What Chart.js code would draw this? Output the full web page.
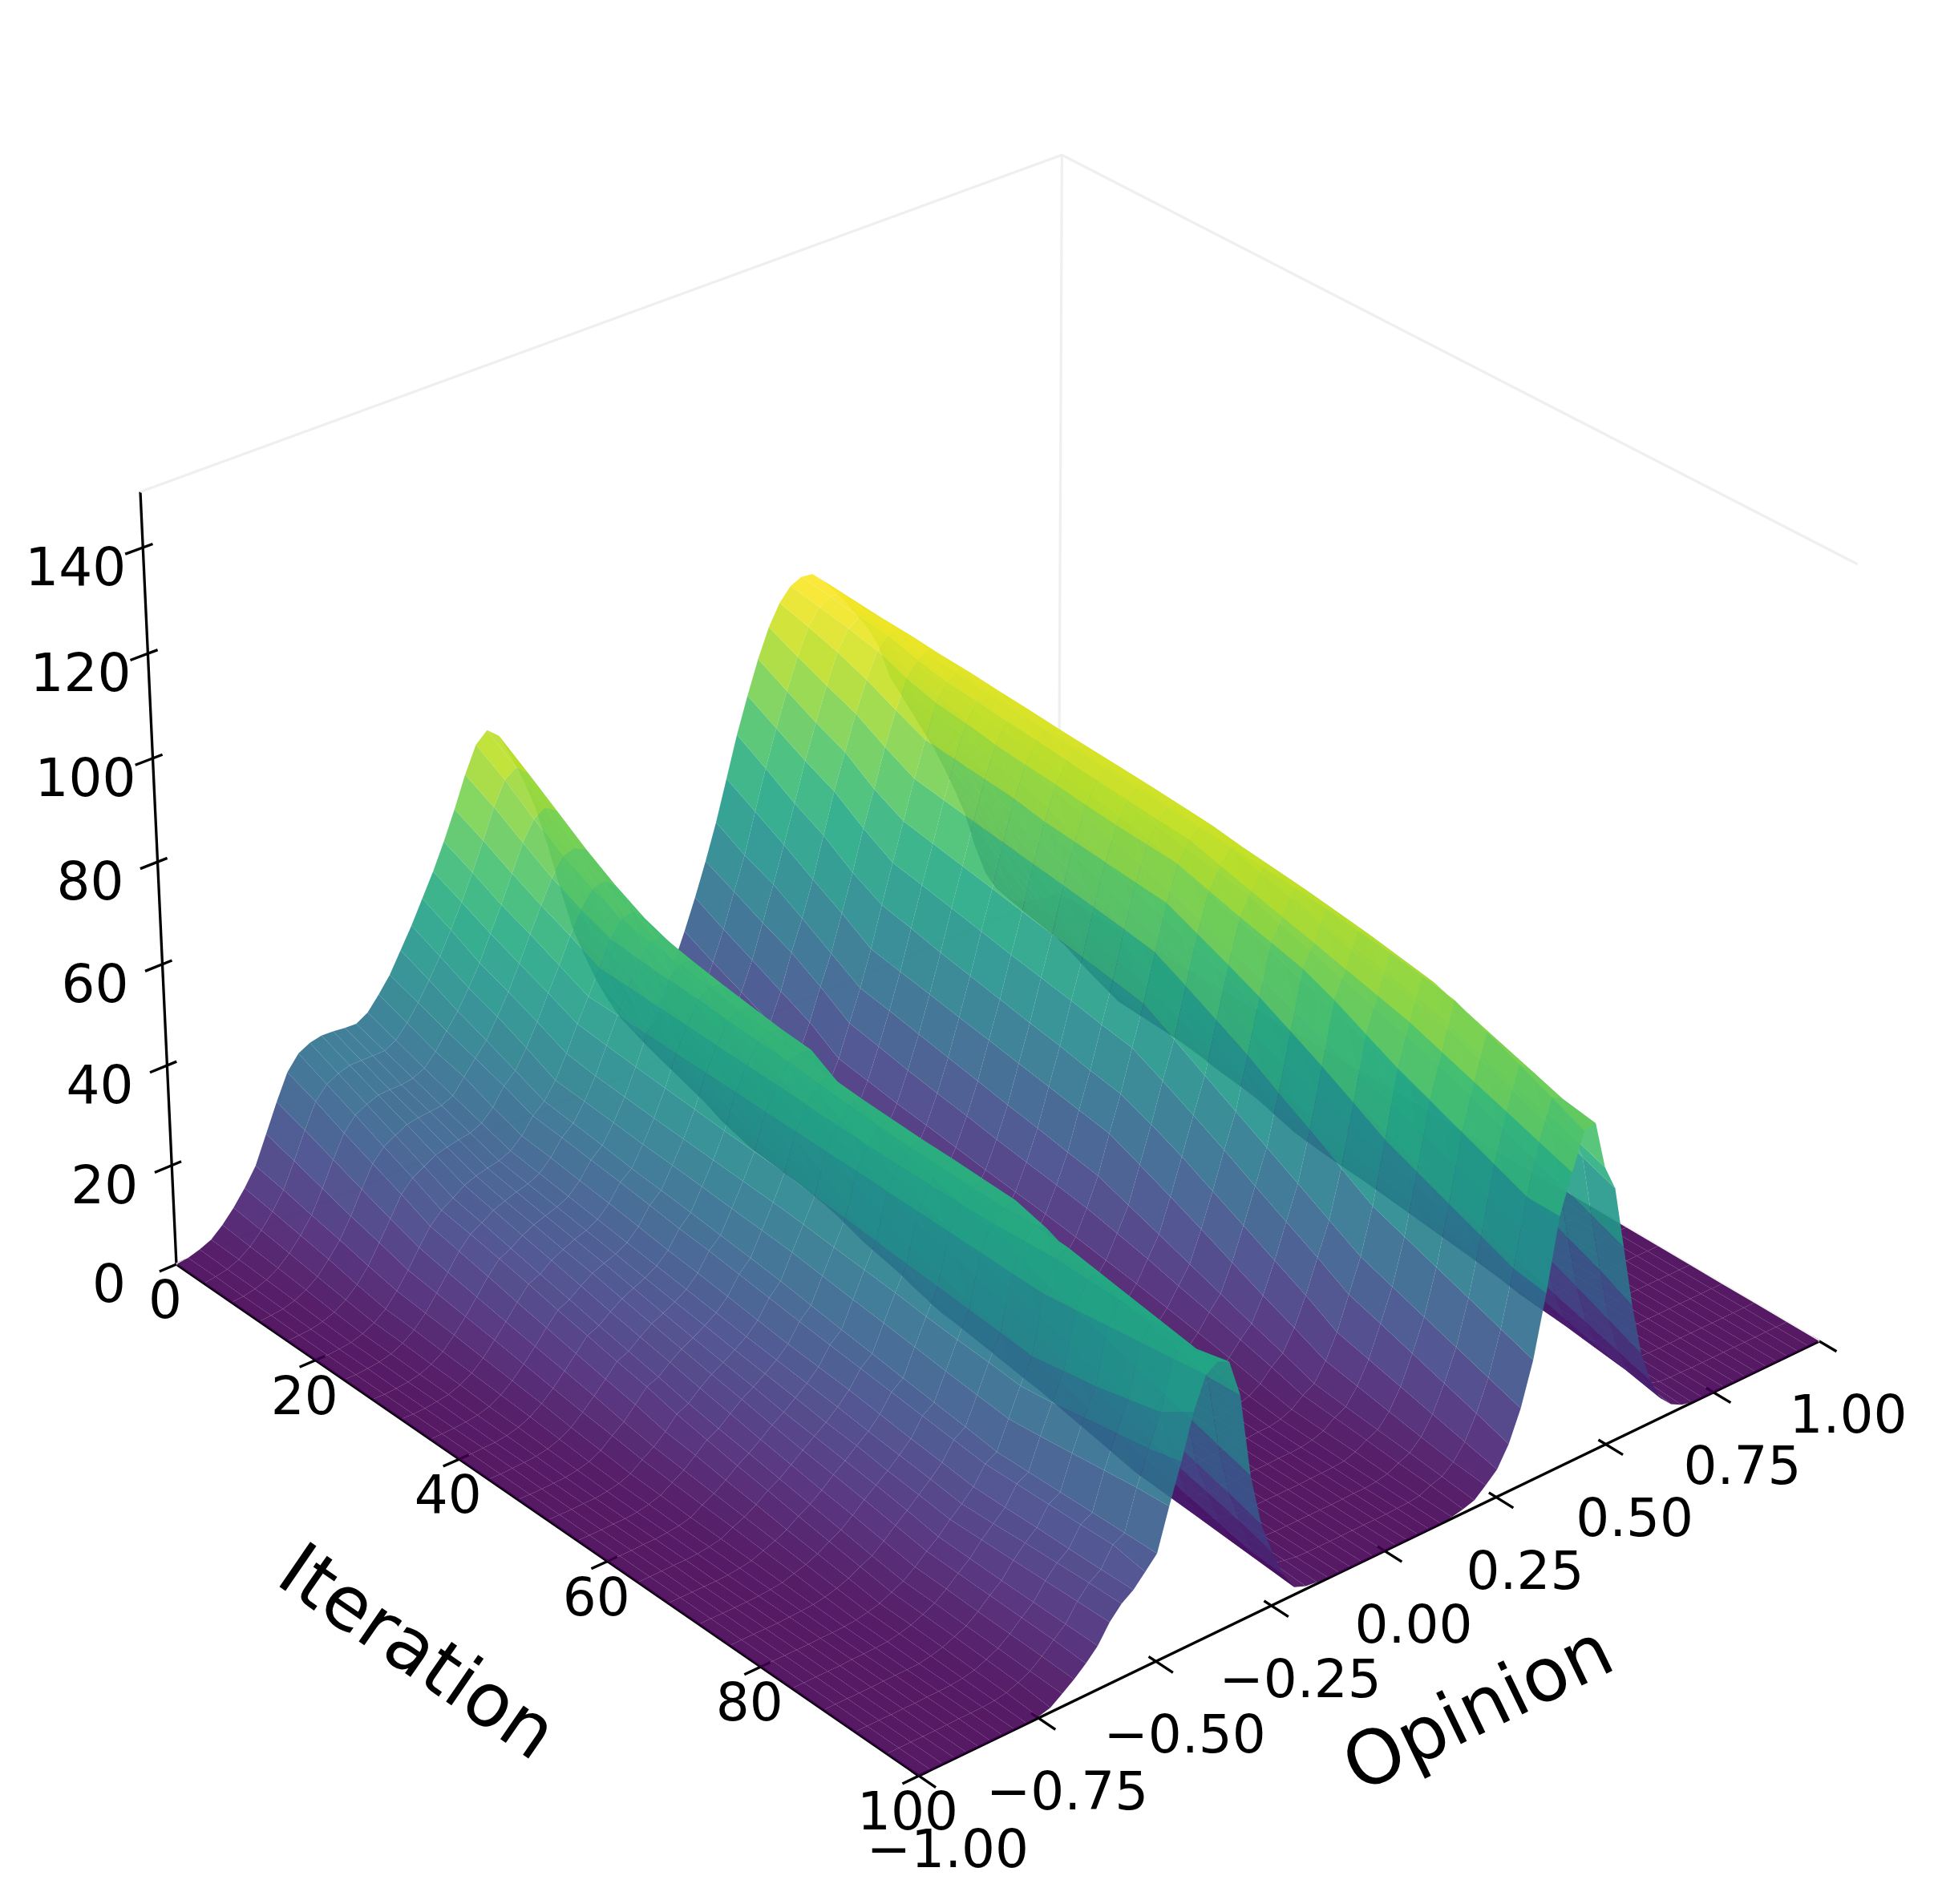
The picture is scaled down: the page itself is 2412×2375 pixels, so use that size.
<!DOCTYPE html>
<html><head><meta charset="utf-8">
<style>html,body{margin:0;padding:0;background:#fff}canvas{display:block}</style>
<script src="https://cdn.jsdelivr.net/npm/chart.js@4/dist/chart.umd.min.js"></script>
</head><body>
<canvas id="c" width="2412" height="2375"></canvas>
<script>
const opinionValues=[-1,-.975,-.95,-.925,-.9,-.875,-.85,-.825,-.8,-.775, -.75,-.725,-.7,-.675,-.65,-.625,-.6,-.575,-.55,-.525, -.5,-.475,-.45,-.425,-.4,-.375,-.35,-.325,-.3,-.275, -.25,-.225,-.2,-.175,-.15,-.125,-.1,-.075,-.05,-.025, 0,.025,.05,.075,.1,.125,.15,.175,.2,.225, .25,.275,.3,.325,.35,.375,.4,.425,.45,.475, .5,.525,.55,.575,.6,.625,.65,.675,.7,.725, .75,.775,.8,.825,.85,.875,.9,.925,.95,.975, 1];
const iterationValues=[0,4,8,12,16,20,24,28,32,36,40,44,48,52,56,60,64,68,72,76,80,84,88,92,96,100];
const iter0=[0,.3,1,2,4,6.5,9.5,13,18.5,24, 29,31.8,33,33.5,33.4,33.1,33,34.3,37,40, 44,48,52.5,57,62,67.5,73.5,78.5,80.5,78.5, 73.5,68,61.5,53,43.5,34.5,28,22,17,12.5, 9,6.5,8,12.5,19,24.5,30.5,37,44,52, 60,67,73.5,79,83,85.5,86.5,86.2,84,81, 78,74.5,71,66.5,59.5,55,50.5,46,41.6,36.5, 31,25,17,10.5,6.5,3.8,2,1,.5,.1, 0];
const iter4=[0,.3,.8,1.8,3.4,5.7,8.5,11.9,16.8,22, 26.8,29.3,30.5,31.2,31.2,31.2,31.2,32.4,34.9,38, 41.6,45.4,49.8,54.4,59.4,64.8,70.5,75,76.5,74.6, 69.8,64,57.5,49,39.5,32,25,19.3,14.4,10, 7.5,5.5,6.8,10.6,16.6,21.7,27.5,34.3,40.8,48.8, 56.6,63.8,70.4,76.4,81.5,84.6,85.8,85.7,83.6,80.6, 77.6,74,70,65.2,58,53,48,43.2,37.8,32.2, 26.4,20.8,14,8.6,5,3,1.6,.8,.3,.1, 0];
const iter8=[0,.2,.7,1.5,2.9,4.9,7.5,10.6,15,19.8, 24.2,26.8,28,28.9,29,29,29.4,30.4,32.8,36, 39,42.7,46.8,51.7,56.5,61.8,67,70.7,72,70.5, 66.2,60,53.5,45,36,28.2,22,16.6,12,8, 6,4.6,5.6,9.2,14.2,19.2,24.8,31.5,38.4,45.5, 53,60.7,67.5,74,79.8,83.7,85,85,83.2,80.2, 77.2,73.2,69,63.5,56.7,51,45.5,39.8,33.9,27.8, 22,16.6,11,6.8,3.8,2.3,1.2,.6,.2,.1, 0];
const iter12=[0,.2,.5,1.2,2.3,4,6.5,9.4,13.2,17.6, 21.8,24.2,25.5,26.7,27.1,27.3,27.6,28.6,31.4,34.2, 36.8,40.6,44.6,49.3,54.2,59,63.5,66.8,67.5,66.4, 62.5,55.7,49,41,32.5,25,19,13.8,9.5,6, 4.5,3.7,4.5,7.5,11.8,16.5,22,29,35,42, 50,58,65,71.8,77.7,82.5,84.5,85.2,83,79.8, 76.8,72.4,67.9,61.8,55.5,49.2,43,36.5,30,23.8, 18.2,13.5,8,4.9,2.8,1.6,.9,.5,.2,.1, 0];
const iter16=[0,.1,.3,.8,1.7,3.2,5.2,8,11.7,15.5, 19.4,21.7,23,24.3,24.9,25.4,25.8,26.8,29,32.3, 34.4,38,42.2,47,51.6,56.5,60.7,63.8,64.5,62.8, 58.5,50.5,44,36.4,28,21,15.8,10.7,6.7,3.8, 2.8,2.3,3.2,5.8,9.4,13.8,19.3,25.6,31.5,38.7, 46,54,61,68.5,75,80.3,83,84.4,82.6,79.2, 76.4,71.8,66.5,60.2,54,47.5,40,33,26.3,19.5, 14,10,5,2.8,1.4,.7,.4,.2,.1,0, 0];
const iter20=[0,0,.2,.5,1.2,2.4,4.2,6.8,10,13.5, 16.8,19,20.5,22,22.9,23.5,24,25,27,30, 32,35.2,39.6,44.5,49,53.7,58.5,61.5,62,59.8, 54.5,47.5,40,32.5,25.2,18.5,13,8.6,5,2.6, 1.5,1.4,2.2,4.3,7,10.8,15.5,21.8,28,35, 43,50.6,58,65.6,72.5,78.8,82,83.8,82.4,78.8, 76,71,66,59.5,52.5,45.5,38,30,22.5,15.5, 9.5,6.2,2.5,1.2,.5,.2,.1,0,0,0, 0];
const iter24=[0,0,.2,.5,1.1,2.2,3.9,6.2,9.2,12.4, 15.6,18,19.3,20.8,21.7,22.5,23.1,24.2,26.4,29.4, 31.3,34.7,38.8,43.9,48.9,53.6,58,60.5,60.8,57.8, 51,44,36.6,29.2,22,16,11.5,7.4,4.3,2.3, 1.3,1.3,2,4.1,6.6,10,14.6,20.7,27,34, 41.8,49.6,57,64.8,72,78.2,81.6,83.1,82,78.4, 75.6,70.4,65,58,50.3,43,35,27.4,20.4,13.5, 8.5,5,2.2,1,.5,.2,.1,0,0,0, 0];
const iter28=[0,0,.1,.4,.9,1.9,3.4,5.7,8.4,11.3, 14.4,16.9,18,19.6,20.7,21.5,22.3,23.4,25.6,28.7, 30.6,34.2,38.3,43.3,48.8,53.3,57.6,59.6,59.6,55.5, 48,41,33.3,26,19.6,13.9,10,6.4,3.7,2, 1.2,1.2,1.9,3.7,6.1,9.4,13.7,19.5,25.9,33, 40.5,48.5,56,64,71.5,77.4,81,82.7,81.7,78, 75.3,69.8,64,56.3,48.1,40.5,33,25.5,18.8,12, 7.5,4.5,1.9,.9,.4,.2,.1,0,0,0, 0];
const iter32=[0,0,.1,.4,.8,1.7,3,5,7.6,10.2, 13.1,15.7,16.7,18.4,19.6,20.6,21.4,22.6,24.8,28, 29.8,33.6,37.8,42.8,48.6,53.1,57.3,58.7,58.6,53, 45,38,29.9,22.9,17.4,12,8.4,5.4,3.1,1.7, 1,1.1,1.7,3.4,5.7,8.7,13,18.5,24.8,32, 39.4,47.4,55,63.3,71,76.9,80.7,82.3,81.3,77.6, 74.9,69,63,54.5,46,38,30,23,16.3,10.5, 6.5,3.7,1.6,.8,.3,.1,.1,0,0,0, 0];
const iter36=[0,0,.1,.3,.6,1.3,2.6,4.4,6.7,9.2, 11.9,14.4,15.5,17.2,18.7,19.7,20.5,21.8,24,27.2, 29.2,33.2,37.4,42.3,48.5,52.9,56.8,57.9,57.8,50.4, 42.5,35,26.5,20,15,10,6.8,4.3,2.5,1.3, .8,.9,1.5,3.1,5.2,8.1,12.2,17.6,23.7,31, 38.3,46.3,54,62.5,70,76.4,80.2,82,81,77.2, 74.5,68,62,53,43.8,35.5,27.5,20.4,14.2,8.8, 5.2,2.9,1.3,.6,.2,.1,0,0,0,0, 0];
const iter40=[0,0,.1,.2,.5,1.1,2.2,3.8,5.8,8.2, 10.7,13.2,14.2,15.9,17.5,18.6,19.6,21,23.1,26.4, 28.6,32.7,37,41.8,48.4,52.7,56.4,57.2,57,48, 40,32,23,17,12.6,7.8,5.3,3.3,1.9,1, .7,.8,1.3,2.8,4.8,7.6,11.4,16.6,22.6,30, 37.2,45.3,53,61.8,69.5,75.8,79.8,81.6,80.7,76.8, 74.1,67,60.5,51,41.5,33,25,18,12.2,7.5, 4.4,2.3,1,.5,.2,.1,0,0,0,0, 0];
const iter44=[0,0,.1,.2,.4,.8,1.7,3,5,7.2, 9.5,12,13,14.8,16.4,17.5,18.7,20.2,22.4,25.8, 27.9,32.2,36.6,41.4,48.2,52.6,56.2,56.8,56.5,45.5, 37.5,29,19.5,14.2,10,6.4,3.8,2.4,1.3,.7, .5,.7,1.2,2.6,4.3,7,10.7,15.7,21.6,29, 36.2,44.3,52,61,69,75.3,79.3,81.2,80.4,76.5, 73.8,66,58.5,48.5,39.4,30.5,22.5,15.5,10.1,5.8, 3.4,1.8,.8,.3,.1,0,0,0,0,0, 0];
const iter48=[0,0,0,.1,.2,.6,1.2,2.4,4.3,6, 8.4,10.9,11.8,13.7,15.3,16.5,17.9,19.4,21.6,25, 27.2,31.7,36.2,41,48.1,52.3,55.6,56,53,42.8, 35,26,16.2,11.5,7.7,4.8,2.3,1.4,.8,.4, .3,.5,1,2.2,3.9,6.4,10,14.9,20.5,28, 35,43.2,51,60.2,68.5,75,78.9,80.8,80,76.2, 73.4,65,56.5,46,37.2,27.8,18.8,12,8,4, 2.2,1,.5,.2,.1,0,0,0,0,0, 0];
const iter52=[0,0,0,.1,.1,.4,.9,1.8,3.5,5, 7,9.4,10.5,12.5,14.2,15.5,17,18.6,20.8,24.2, 26.5,31.2,35.7,40.2,48,52,55,55.5,50,40.2, 32,23,13,9,6,3.4,.9,.4,.2,.1, .2,.4,.8,1.9,3.5,5.9,9.2,14,19.5,27, 34,42.2,50,59.2,68,74.7,78.5,80.3,79.6,75.5, 73,64,54.5,44,35,25.5,17,10.5,6,3.2, 1.6,.7,.2,.1,0,0,0,0,0,0, 0];
const iter56=[0,0,0,.1,.1,.3,.8,1.5,3,4.4, 6.3,8.3,9.5,11.4,13.2,14.6,16.2,17.9,20,23.4, 25.6,30.4,35,39.6,47.9,51.9,54.6,55.2,48.1,38, 30,21,11.7,8,5.3,2.9,.6,.3,.2,.1, .2,.3,.7,1.6,3,5.3,8.3,12.7,17.4,24.5, 31.6,39.3,46.6,56.2,65.5,73,77,79.8,78.8,74.2, 71.4,62,52,41.8,32.6,23.5,15,9.2,5.3,2.7, 1.3,.6,.2,.1,0,0,0,0,0,0, 0];
const iter60=[0,0,0,.1,.1,.3,.6,1.2,2.6,3.8, 5.4,7.2,8.6,10.3,12.1,13.6,15.4,17.2,19.4,22.7, 24.7,29.6,34.4,39,47.7,51.8,54.3,54.9,46.3,36, 28.3,19.3,10.4,7,4.6,2.4,.5,.2,.1,.1, .1,.3,.7,1.4,2.6,4.6,7.4,11.4,15.3,21.9, 28.9,36.2,43.1,53,63,71.4,75.5,79.3,78.2,72.8, 69.7,60.2,50,39.6,30,21.3,13.2,8,4.6,2.3, 1.1,.5,.1,.1,0,0,0,0,0,0, 0];
const iter64=[0,0,0,.1,.1,.2,.5,1,2.2,3.2, 4.6,6.3,7.6,9.3,11.1,12.8,14.5,16.5,18.8,22, 23.9,28.9,33.8,38.4,47.6,51.8,54.1,54.8,44.4,34, 26.4,17.8,9.1,6,3.9,2,.4,.2,.1,0, .1,.2,.6,1.1,2.1,3.8,6.4,9.8,13.2,19.2, 25.8,33,39.7,49.8,60.3,70,74,78.8,77.6,71.5, 68.1,58.3,47.8,37,27.7,19.4,11.8,7,3.9,1.9, .9,.4,.1,.1,0,0,0,0,0,0, 0];
const iter68=[0,0,0,0,0,.1,.4,.8,1.7,2.6, 3.7,5.3,6.6,8.3,10.3,12,13.9,15.7,18,21.3, 23,28.1,33,37.8,47.4,51.9,54,54.6,42.6,32, 24.5,16.2,7.9,5.1,3.3,1.6,.3,.2,.1,0, .1,.2,.5,.9,1.7,3,5.3,8.4,11.1,16.4, 22.7,29.6,36.3,46,57.2,68.5,72.5,78.3,76.8,70.2, 66.4,56.5,45.6,34.8,25.3,17.5,10.5,6.1,3.2,1.6, .7,.3,.1,0,0,0,0,0,0,0, 0];
const iter72=[0,0,0,0,0,.1,.3,.6,1.3,2, 3,4.4,5.6,7.4,9.4,11.2,13,15,17.2,20.6, 22.2,27.3,32.4,37.2,47.3,52,53.9,54.4,40.7,30, 22.6,14.6,6.6,4.2,2.6,1.3,.2,.1,.1,0, .1,.1,.3,.6,1.2,2.3,4.2,6.8,9,13.6, 19.6,26.3,32.9,42.5,54,66,71,77.6,76,69, 65.2,54.5,43.4,32.6,22.9,15.7,9.2,5.2,2.5,1.2, .5,.2,.1,0,0,0,0,0,0,0, 0];
const iter76=[0,0,0,0,0,.1,.2,.4,.8,1.4, 2.3,3.5,4.6,6.4,8.4,10.3,12.3,14.3,16.5,19.9, 21.4,26.6,31.9,36.6,47.1,52.4,54.3,52.7,38.9,28, 20.7,13,5.3,3.2,2,.8,.1,0,0,0, 0,.1,.2,.5,.8,1.5,2.9,5.2,7,11, 16.5,23,29.4,38.7,50.5,63,69.5,76.9,75,67.5, 63.6,52.6,41.2,30.5,20.4,13.7,7.8,4.3,1.7,.8, .3,.1,0,0,0,0,0,0,0,0, 0];
const iter80=[0,0,0,0,0,.1,.1,.2,.4,.9, 1.5,2.6,3.7,5.4,7.4,9.2,11.5,13.5,15.8,19.2, 20.5,25.9,31.3,36,47,52.8,54,50,37,26, 18.8,11.5,4,2.5,1.2,.4,0,0,0,0, 0,0,.1,.3,.3,.8,1.7,3.5,4.8,8.3, 13,19.5,26,35,47,60,68,76,74,66, 62,50.5,39,28.2,18,11.6,6.3,3.2,1,.5, .2,.1,0,0,0,0,0,0,0,0, 0];
const iter84=[0,0,0,0,0,.1,.1,.2,.3,.8, 1.4,2.4,3.5,5.2,7.2,9,11.6,13.7,15.8,19.3, 20.6,26.5,32,37,47.8,52.6,53,48.4,35.1,24.4, 17.2,10,3.5,2.1,1,.3,0,0,0,0, 0,0,.1,.1,.2,.6,1.4,3,4.1,7.2, 11.5,17.6,23.9,32.8,44.5,57.6,65.9,75,72,63.8, 59.7,48,36.4,25.7,16.1,10,5.3,2.6,.8,.4, .2,0,0,0,0,0,0,0,0,0, 0];
const iter88=[0,0,0,0,0,.1,.1,.1,.2,.6, 1.2,2.2,3.2,4.9,7,8.8,11.7,14,15.9,19.4, 20.7,27.2,33,38,48.6,52.4,52,46.8,33.2,22.6, 15.6,8.5,3,1.7,.8,.2,0,0,0,0, 0,0,.1,.1,.2,.4,1.2,2.5,3.5,6.1, 10,15.6,21.8,30.6,42,55,63.8,72.5,70,61.8, 57.4,45.5,33.8,23,14.2,8.3,4.4,2,.6,.3, .1,0,0,0,0,0,0,0,0,0, 0];
const iter92=[0,0,0,0,0,0,.1,.1,.2,.4, .9,1.9,3,4.7,6.8,8.7,11.8,14.2,15.9,19.5, 20.8,27.9,34,39.5,49.4,52.2,51,45.2,31.3,20.8, 14,7,2.5,1.3,.6,.2,0,0,0,0, 0,0,0,.1,.1,.3,.8,1.9,2.9,5, 8.5,13.6,19.7,28.4,39.5,52.5,61.7,70,68,59.8, 55.1,43,31.2,20.4,12.3,6.8,3.6,1.5,.5,.2, .1,0,0,0,0,0,0,0,0,0, 0];
const iter96=[0,0,0,0,0,0,.1,.1,.1,.3, .7,1.6,2.7,4.5,6.6,8.6,11.9,14.4,16,19.7, 20.9,28.6,35,41,50.2,52,50,43.6,29.4,19, 12.4,5.5,2,1,.5,.1,0,0,0,0, 0,0,0,0,.1,.2,.5,1.5,2.2,4, 7,11.6,17.6,26.2,37,50,59.6,67.3,66,57.8, 52.8,40.5,28.6,17.7,10.4,5.3,2.8,1,.3,.1, .1,0,0,0,0,0,0,0,0,0, 0];
const iter100=[0,0,0,0,0,0,0,0,0,.1, .3,.9,2.5,4.2,6.2,8.5,12,14.5,16.1,18.5, 21,29,36.5,45,51,52.5,51.5,44,27.5,17, 10.5,5,1.5,.6,.3,.1,0,0,0,0, 0,0,0,0,0,.1,.3,.8,1.5,3.4, 5.5,9.5,15.5,24,36,50,57.5,64.5,65,55.5, 50.5,38,25.5,15,8.5,4,1.8,.6,.1,0, 0,0,0,0,0,0,0,0,0,0, 0];
const densityRows=[iter0,iter4,iter8,iter12,iter16,iter20,iter24,iter28,iter32,iter36,iter40,iter44,iter48,iter52,iter56,iter60,iter64,iter68,iter72,iter76,iter80,iter84,iter88,iter92,iter96,iter100];
const zTicks=[0,20,40,60,80,100,120,140];
const iterationTicks=[0,20,40,60,80,100];
const opinionTicks=[-1,-.75,-.5,-.25,0,.25,.5,.75,1];
const opinionTickLabels=['\u22121.00','\u22120.75','\u22120.50','\u22120.25','0.00','0.25','0.50','0.75','1.00'];
const xTitle='Opinion', yTitle='Iteration';
const zTop=150.4, colorMax=86.5, surfaceAlpha=.9;
const viridis=[[68,1,84],[72,36,117],[65,68,135],[53,95,141],[42,120,142],[33,145,140],[34,168,132],[68,191,112],[122,209,81],[189,223,38],[253,231,37]];

function project(op,it,z){
  const s=(op+1)/2,t=it/100,h=z/140;
  const w=1+.0665*s-.0765*t-.04006*h;
  return {x:(220+1188*s+838.3*t-48.9*h)/w,y:(1577-389.3*s+468.6*t-921.4*h)/w,w};
}
function colorFor(z){
  const v=Math.max(0,Math.min(1,z/colorMax))*(viridis.length-1),i=Math.min(viridis.length-2,Math.floor(v)),f=v-i;
  const c=viridis[i].map((a,k)=>Math.round(a+(viridis[i+1][k]-a)*f));
  return `rgba(${c[0]},${c[1]},${c[2]},${surfaceAlpha})`;
}
const pt=(op,it,z)=>{const p=project(op,it,z);return {x:p.x,y:p.y};};
const gap={x:NaN,y:NaN};
const paneLines=[pt(-1,0,zTop),pt(1,0,zTop),pt(1,100,zTop),gap,pt(1,0,zTop),pt(1,0,0),gap,pt(-1,0,0),pt(1,0,0),pt(1,100,0)];
const axisLines=[pt(-1,0,zTop),pt(-1,0,0),pt(-1,100,0),pt(1,100,0)];
const tickLines=[];
zTicks.forEach(z=>tickLines.push(pt(-1.036,0,z),pt(-.98,0,z),gap));
iterationTicks.forEach(i=>tickLines.push(pt(-1.034,i,0),pt(-.98,i,0),gap));
opinionTicks.forEach(o=>tickLines.push(pt(o,99.1,0),pt(o,102.1,0),gap));
const vertices=[];
densityRows.forEach((row,r)=>row.forEach((z,c)=>vertices.push(pt(opinionValues[c],iterationValues[r],z))));

const faces=[];
for(let r=0;r<iterationValues.length-1;r++)for(let c=0;c<opinionValues.length-1;c++){
  const k=[[r,c],[r,c+1],[r+1,c+1],[r+1,c]];
  const ps=k.map(([a,b])=>project(opinionValues[b],iterationValues[a],densityRows[a][b]));
  const mz=k.reduce((m,[a,b])=>m+densityRows[a][b],0)/4;
  faces.push({ps,depth:ps.reduce((m,p)=>m+p.w,0)/4,fill:colorFor(mz)});
}
faces.sort((a,b)=>b.depth-a.depth);

const surfacePlugin={id:'surface',afterDatasetsDraw(chart){
  const {ctx,scales:{x,y}}=chart;
  ctx.save();
  faces.forEach(f=>{
    ctx.beginPath();
    f.ps.forEach((p,i)=>{const X=x.getPixelForValue(p.x),Y=y.getPixelForValue(p.y);i?ctx.lineTo(X,Y):ctx.moveTo(X,Y);});
    ctx.closePath();ctx.fillStyle=f.fill;ctx.fill();
  });
  ctx.restore();
}};
const textPlugin={id:'labels',afterDraw(chart){
  const {ctx,scales:{x,y}}=chart;
  const put=(t,px,py,size,rot)=>{ctx.save();ctx.translate(x.getPixelForValue(px),y.getPixelForValue(py));ctx.rotate((rot||0)*Math.PI/180);
    ctx.font=size+'px "DejaVu Sans"';ctx.fillStyle='#000';ctx.textAlign='center';ctx.textBaseline='middle';ctx.fillText(t,0,0);ctx.restore();};
  zTicks.forEach(z=>{const p=project(-1,0,z);put(String(z),p.x-84,p.y+30,66);});
  iterationTicks.forEach(i=>{const p=project(-1,i,0);put(String(i),p.x-14,p.y+50,66);});
  opinionTicks.forEach((o,k)=>{const p=project(o,100,0);put(opinionTickLabels[k],p.x+36,p.y+97,66);});
  put(yTitle,517,2066,93,34.6);
  put(xTitle,1846,2137,93,-25.8);
}};
new Chart(document.getElementById('c'),{
  type:'scatter',
  data:{datasets:[
    {label:'surface vertices',data:vertices,pointRadius:0,showLine:false},
    {label:'panes',data:paneLines,showLine:true,borderColor:'#efefef',borderWidth:3.3,pointRadius:0,spanGaps:false},
    {label:'axes',data:axisLines,showLine:true,borderColor:'#000',borderWidth:3.3,pointRadius:0,spanGaps:false},
    {label:'ticks',data:tickLines,showLine:true,borderColor:'#000',borderWidth:3.3,pointRadius:0,spanGaps:false}
  ]},
  options:{responsive:false,animation:false,devicePixelRatio:1,layout:{padding:0},
    plugins:{legend:{display:false},tooltip:{enabled:false},title:{display:false}},
    scales:{x:{type:'linear',min:0,max:2412,display:false},y:{type:'linear',min:0,max:2375,reverse:true,display:false}}},
  plugins:[surfacePlugin,textPlugin]
});
</script>
</body></html>
